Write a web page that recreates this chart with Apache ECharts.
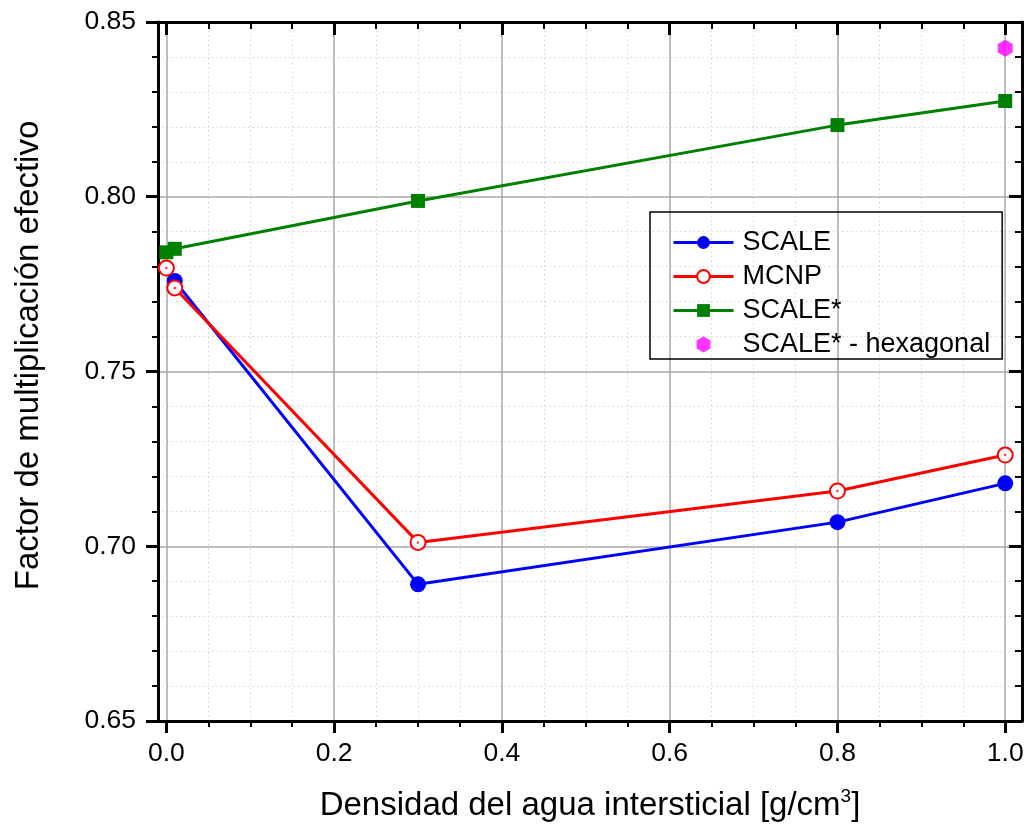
<!DOCTYPE html>
<html>
<head>
<meta charset="utf-8">
<script src="https://cdn.jsdelivr.net/npm/echarts@6/dist/echarts.min.js"></script>
<style>
  html, body { margin: 0; padding: 0; background: #fff; }
  #chart { width: 1027px; height: 833px; }
</style>
</head>
<body>
<div id="chart"></div>
<script>
// densidad del agua [g/cm3] and keff per code
const scaleX = [0.01, 0.3, 0.8, 1.0];
const scaleY = [0.7759, 0.6891, 0.7069, 0.7180];
const mcnpX = [0.0, 0.01, 0.3, 0.8, 1.0];
const mcnpY = [0.7796, 0.7739, 0.7011, 0.7158, 0.7261];
const scaleStarX = [0.0, 0.01, 0.3, 0.8, 1.0];
const scaleStarY = [0.7841, 0.7851, 0.7988, 0.8205, 0.8274];
const hexX = [1.0];
const hexY = [0.8425];

const xMajor = [0, 0.2, 0.4, 0.6, 0.8, 1.0];
const xMinor = [0.05, 0.1, 0.15, 0.25, 0.3, 0.35, 0.45, 0.5, 0.55, 0.65, 0.7, 0.75, 0.85, 0.9, 0.95];

const pairs = (xs, ys) => xs.map((x, i) => [x, ys[i]]);

const FONT = 'Liberation Sans, Arial, sans-serif';
const hexagon = 'path://M0,-10L8.66,-5L8.66,5L0,10L-8.66,5L-8.66,-5Z';

const chart = echarts.init(document.getElementById('chart'));

const xBase = {
  type: 'value', min: -0.01, max: 1.02,
  axisLine: { show: false, onZero: false },
  axisLabel: { show: false },
  splitLine: { show: false }
};

chart.setOption({
  animation: false,
  grid: { left: 158, right: 5, top: 22, bottom: 112, containLabel: false },
  legend: {
    orient: 'vertical', left: 650, top: 212,
    padding: [17, 12, 1, 22],
    borderColor: '#000', borderWidth: 1.5,
    itemWidth: 60, itemHeight: 16, itemGap: 7,
    lineStyle: { width: 3 },
    data: ['SCALE', 'MCNP', 'SCALE*', 'SCALE* - hexagonal'],
    textStyle: { fontFamily: FONT, fontSize: 27, color: '#000', padding: [0, 0, 0, 4] }
  },
  xAxis: [
    Object.assign({}, xBase, {
      position: 'bottom',
      axisLine: { show: true, onZero: false, lineStyle: { color: '#000', width: 3 } },
      axisTick: { customValues: xMajor, length: 12, lineStyle: { color: '#000', width: 3 } },
      axisLabel: { show: true, customValues: xMajor, margin: 19, fontFamily: FONT, fontSize: 26.5, color: '#000',
        formatter: v => v.toFixed(1) },
      splitLine: { show: true, lineStyle: { color: '#a8a8a8', width: 1.5 } },
      name: '{a|Densidad del agua intersticial [g/cm}{s|3}{a|]}',
      nameLocation: 'middle', nameGap: 66,
      nameTextStyle: {
        rich: {
          a: { fontFamily: FONT, fontSize: 33, color: '#000' },
          s: { fontFamily: FONT, fontSize: 19, color: '#000', padding: [0, 0, 18, 0] }
        }
      }
    }),
    Object.assign({}, xBase, {
      position: 'bottom',
      axisTick: { customValues: xMinor, length: 6, lineStyle: { color: '#000', width: 2 } },
      splitLine: { show: true, lineStyle: { color: '#d6d6d6', width: 1, type: [1.5, 3] } }
    }),
    Object.assign({}, xBase, {
      position: 'top',
      axisLine: { show: true, onZero: false, lineStyle: { color: '#000', width: 3 } },
      axisTick: { customValues: xMajor, inside: true, length: 13, lineStyle: { color: '#000', width: 3 } }
    }),
    Object.assign({}, xBase, {
      position: 'top',
      axisTick: { customValues: xMinor, inside: true, length: 7, lineStyle: { color: '#000', width: 2 } }
    })
  ],
  yAxis: [
    {
      type: 'value', position: 'left', min: 0.65, max: 0.85, interval: 0.05,
      axisLine: { show: true, onZero: false, lineStyle: { color: '#000', width: 3 } },
      axisTick: { length: 12, lineStyle: { color: '#000', width: 3 } },
      minorTick: { show: true, splitNumber: 5, length: 6, lineStyle: { color: '#000', width: 2 } },
      axisLabel: { margin: 22, fontFamily: FONT, fontSize: 26.5, color: '#000', formatter: v => v.toFixed(2) },
      splitLine: { show: true, lineStyle: { color: '#a8a8a8', width: 1.5 } },
      minorSplitLine: { show: true, lineStyle: { color: '#d6d6d6', width: 1, type: [1.5, 3] } },
      name: 'Factor de multiplicación efectivo',
      nameLocation: 'middle', nameGap: 113,
      nameTextStyle: { fontFamily: FONT, fontSize: 33, color: '#000', padding: [0, 0, 0, 32] }
    },
    {
      type: 'value', position: 'right', min: 0.65, max: 0.85, interval: 0.05,
      axisLine: { show: true, onZero: false, lineStyle: { color: '#000', width: 3 } },
      axisTick: { inside: true, length: 13, lineStyle: { color: '#000', width: 3 } },
      minorTick: { show: true, splitNumber: 5, length: 7, lineStyle: { color: '#000', width: 2 } },
      axisLabel: { show: false },
      splitLine: { show: false }
    }
  ],
  series: [
    {
      name: 'SCALE', type: 'line', data: pairs(scaleX, scaleY),
      symbol: 'circle', symbolSize: 16,
      lineStyle: { color: '#0000ff', width: 3 },
      itemStyle: { color: '#0000ff' }
    },
    {
      name: 'MCNP', type: 'line', data: pairs(mcnpX, mcnpY),
      symbol: 'emptyCircle', symbolSize: 15,
      lineStyle: { color: '#ff0000', width: 3 },
      itemStyle: { color: '#ff0000', borderWidth: 1.5 }
    },
    {
      name: 'MCNP centro', type: 'scatter', data: pairs(mcnpX, mcnpY),
      symbol: 'circle', symbolSize: 2.5, silent: true,
      itemStyle: { color: '#ff0000' }, z: 3
    },
    {
      name: 'SCALE*', type: 'line', data: pairs(scaleStarX, scaleStarY),
      symbol: 'rect', symbolSize: 14,
      lineStyle: { color: '#008000', width: 3 },
      itemStyle: { color: '#008000' }
    },
    {
      name: 'SCALE* - hexagonal', type: 'scatter', data: pairs(hexX, hexY),
      symbol: hexagon, symbolSize: [15, 17],
      itemStyle: { color: '#ff00ff' }
    }
  ]
});
</script>
</body>
</html>
